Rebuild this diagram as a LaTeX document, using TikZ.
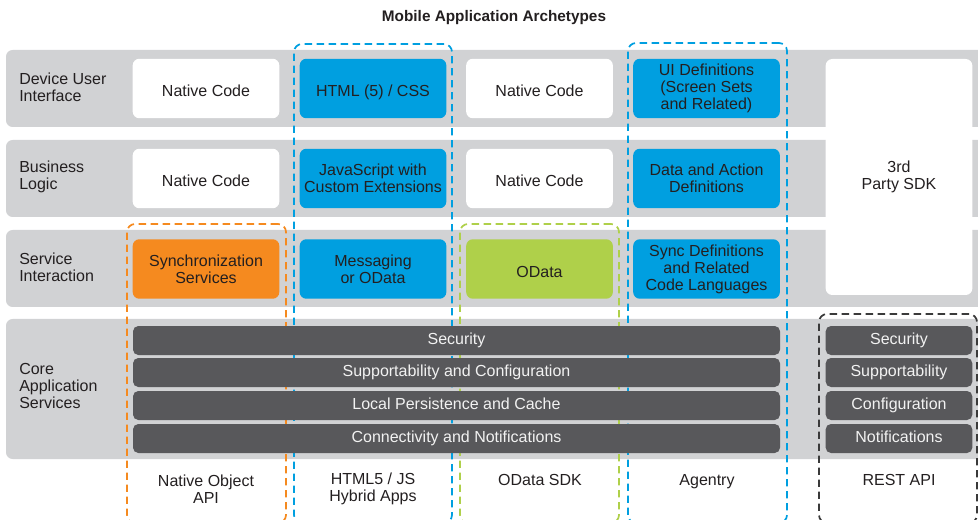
\documentclass[tikz,border=0pt]{standalone}
\usepackage{fontspec}
\setmainfont{Liberation Sans}
\usepackage{xcolor}
\usetikzlibrary{positioning,%
  fit%
}

\definecolor{bandgray}{HTML}{D1D2D4}
\definecolor{sapblue}{HTML}{009FE0}
\definecolor{saporange}{HTML}{F58A1F}
\definecolor{sapgreen}{HTML}{AFD04A}
\definecolor{bardark}{HTML}{58585B}
\definecolor{inkdark}{HTML}{231F20}
\definecolor{framedark}{HTML}{3A3A3A}

\tikzset{
  txt/.style={font=\fontsize{12}{12.8}\selectfont, text=inkdark},
  band/.style={fill=bandgray, draw=none, rounded corners=5pt, inner sep=0pt},
  cellbox/.style={txt, rounded corners=5pt, inner sep=0pt, align=center,
    minimum width=110pt, minimum height=44.6pt},
  oneline/.style={text height=8.7pt, text depth=2.6pt},
  lowline/.style={text height=15pt, text depth=2.6pt},
  nativebox/.style={cellbox, fill=white},
  bluebox/.style={cellbox, fill=sapblue},
  orangebox/.style={cellbox, fill=saporange},
  greenbox/.style={cellbox, fill=sapgreen},
  svcbar/.style={cellbox, oneline, fill=bardark, text=white!95!black,
    minimum height=21.75pt, rounded corners=4pt},
  widebar/.style={svcbar, minimum width=485.25pt},
  archframe/.style={inner sep=0pt, rounded corners=6pt, line width=1.3pt,
    dash pattern=on 5.5pt off 3.5pt},
  rowlabel/.style={txt, anchor=west, align=left, inner sep=0pt},
  archlabel/.style={txt, align=center, inner sep=0pt}
}

\begin{document}
\begin{tikzpicture}[x=0.75pt,y=-0.75pt]
\useasboundingbox (0,0) rectangle (978,520);

\node[txt, font=\fontsize{11.5}{13}\selectfont\bfseries] (title) at (494,17.5) {Mobile Application Archetypes};

% rows
\node[band, fit={(6,50)(990,127)}] (bandUI) {};
\node[band, fit={(6,140)(990,217)}] (bandLogic) {};
\node[band, fit={(6,230)(990,307)}] (bandService) {};
\node[band, fit={(6,319)(990,459)}] (bandCore) {};

\node[rowlabel] (lblUI) at (19,87) {Device User\\Interface};
\node[rowlabel] (lblLogic) at (19,177) {Business\\Logic};
\node[rowlabel] (lblService) at (19,267) {Service\\Interaction};
\node[rowlabel] (lblCore) at (19,386) {Core\\Application\\Services};

% archetype frames
\node[archframe, draw=saporange, fit={(127,224)(286,523)}] (frameNative) {};
\node[archframe, draw=sapblue, fit={(294,44)(452,523)}] (frameHybrid) {};
\node[archframe, draw=sapgreen, fit={(460,224)(619,523)}] (frameOData) {};
\node[archframe, draw=sapblue, fit={(628,43)(787,523)}] (frameAgentry) {};
\node[archframe, draw=framedark, fit={(819,314)(977,523)}] (frameRest) {};

% device user interface
\node[nativebox, lowline] (uiNative) at (206,88.5) {Native Code};
\node[bluebox, lowline] (uiHtml) at (373,88.5) {HTML (5) / CSS};
\node[nativebox, lowline] (uiOData) at (539.5,88.5) {Native Code};
\node[bluebox] (uiAgentry) at (706.5,88.5) {UI Definitions\\(Screen Sets\\and Related)};
\node[nativebox, minimum height=177pt] (sdk) at (899,177) {3rd\\Party SDK};

% business logic
\node[nativebox, lowline] (logicNative) at (206,178.5) {Native Code};
\node[bluebox] (logicHybrid) at (373,178.5) {JavaScript with\\Custom Extensions};
\node[nativebox, lowline] (logicOData) at (539.5,178.5) {Native Code};
\node[bluebox] (logicAgentry) at (706.5,178.5) {Data and Action\\Definitions};

% service interaction
\node[orangebox] (svcNative) at (206,269) {Synchronization\\Services};
\node[bluebox] (svcHybrid) at (373,269) {Messaging\\or OData};
\node[greenbox, lowline] (svcOData) at (539.5,269) {OData};
\node[bluebox] (svcAgentry) at (706.5,269) {Sync Definitions\\and Related\\Code Languages};

% core application services
\node[widebar] (coreSec) at (456.5,340.5) {Security};
\node[widebar] (coreSup) at (456.5,372.5) {Supportability and Configuration};
\node[widebar] (corePers) at (456.5,405.5) {Local Persistence and Cache};
\node[widebar] (coreConn) at (456.5,438.5) {Connectivity and Notifications};

\node[svcbar] (restSec) at (899,340.5) {Security};
\node[svcbar] (restSup) at (899,372.5) {Supportability};
\node[svcbar] (restConf) at (899,405.5) {Configuration};
\node[svcbar] (restNote) at (899,438.5) {Notifications};

% archetype names
\node[archlabel] (nameNative) at (206,489) {Native Object\\API};
\node[archlabel] (nameHybrid) at (373,489) {HTML5 / JS\\Hybrid Apps};
\node[archlabel, oneline] (nameOData) at (540,481) {OData SDK};
\node[archlabel, oneline] (nameAgentry) at (707,481) {Agentry};
\node[archlabel, oneline] (nameRest) at (899,481) {REST API};
\end{tikzpicture}
\end{document}
